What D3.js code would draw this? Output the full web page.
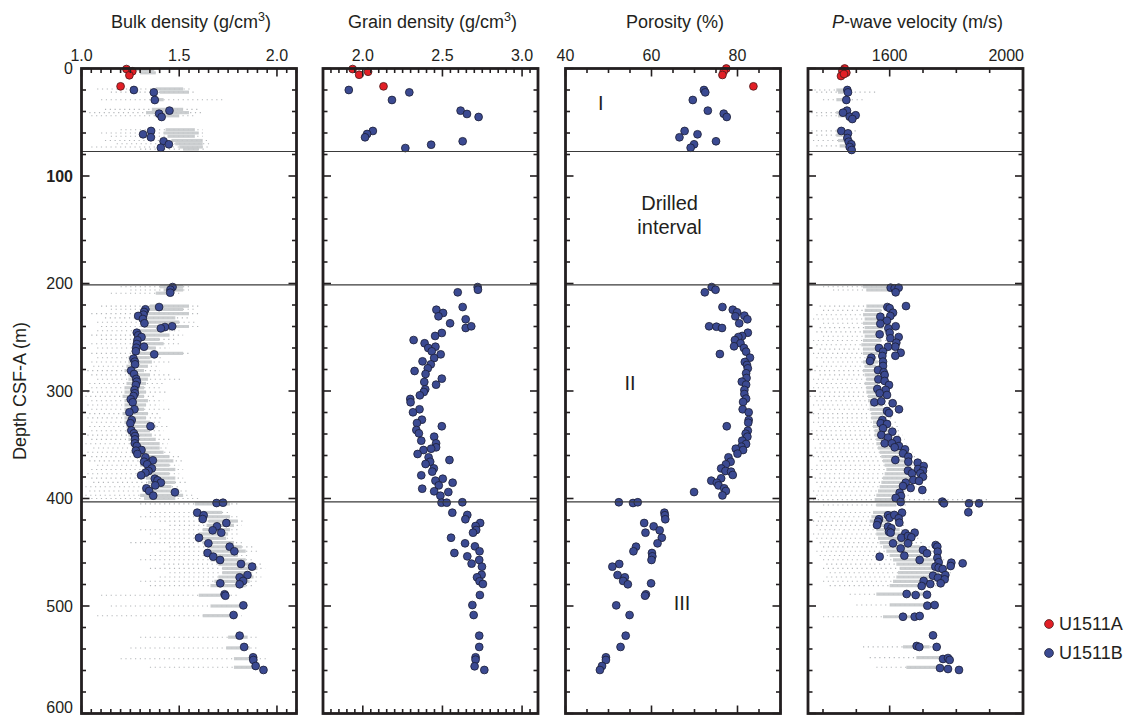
<!DOCTYPE html>
<html><head><meta charset="utf-8">
<script src="https://cdn.jsdelivr.net/npm/d3@7"></script>
<style>body{margin:0;background:#fff}svg{font-family:"Liberation Sans",Arial,Helvetica,sans-serif}</style>
</head><body><svg id="c" width="1129" height="717"></svg>
<script>
// ---------------- DATA ----------------
const unitBoundaries = [77.2, 201.3, 403.2];
const depthTicksMajor = [0,100,200,300,400,500,600];
const seriesNames = ["U1511A","U1511B"];

// [depth m, value]
const bulkA = [[0.5,1.23],[2.6,1.26],[6.3,1.245],[16.6,1.20]];
const bulkB = [[20,1.268],[22.2,1.37],[29.3,1.375],[39.2,1.45],[42,1.397],[45.1,1.41],[58.1,1.356],[61.2,1.315],[64,1.355],[67.7,1.42],[70.5,1.447],[73.7,1.406],
[203.3,1.466],[205.8,1.455],[208.5,1.454],[221.9,1.397],[224,1.327],[226.5,1.32],[229,1.317],[230.2,1.29],[233,1.314],[237,1.322],[239.8,1.464],[240.5,1.427],[241.7,1.406],[245.8,1.283],[248.2,1.29],[249.8,1.307],[252.8,1.286],[256.3,1.283],[258.8,1.32],[259.7,1.28],[263,1.278],[265.9,1.372],[269.9,1.266],[272.7,1.273],[275.2,1.274],[281,1.254],[284.2,1.269],[288.8,1.28],[291.3,1.283],[294.4,1.278],[299,1.271],[302.1,1.273],[304.7,1.266],[307.7,1.252],[310.5,1.262],[317,1.271],[319.8,1.245],[327,1.257],[330,1.25],[332.8,1.353],[336.6,1.255],[339.4,1.268],[341.9,1.274],[345,1.274],[348.7,1.273],[351.2,1.283],[354.9,1.307],[355.5,1.278],[358.6,1.286],[361.7,1.327],[364.5,1.365],[365.8,1.32],[368.2,1.336],[372,1.36],[374.4,1.343],[376,1.327],[378.4,1.305],[381.6,1.375],[383.1,1.389],[385.3,1.406],[387.8,1.377],[390.5,1.332],[393,1.346],[394.2,1.478],[397.4,1.367],
[404.2,1.691],[403.9,1.724],[413.2,1.592],[415.6,1.625],[419.1,1.62],[422.8,1.741],[425.9,1.693],[429.6,1.671],[431.8,1.715],[436.5,1.601],[441.7,1.649],[444.8,1.758],[449.1,1.782],[450.7,1.645],[454.1,1.674],[457.2,1.709],[460.9,1.816],[463.4,1.873],[471.2,1.849],[473.3,1.809],[476.7,1.827],[478.9,1.71],[479.8,1.809],[489.1,1.732],[490.4,1.736],[499.4,1.828],[508.4,1.778],[527.6,1.809],[538.1,1.832],[547.7,1.878],[550.2,1.879],[555.8,1.891],[559.5,1.931]];

const grainA = [[0.5,1.936],[5.8,1.977],[3,2.033],[16.6,2.13]];
const grainB = [[20,1.912],[22.2,2.292],[29.3,2.183],[39.2,2.614],[42.3,2.654],[45.1,2.727],[58.1,2.063],[60.9,2.027],[64,2.014],[67.7,2.627],[70.9,2.429],[74,2.267],
[203.3,2.721],[205.8,2.723],[208.2,2.596],[221.9,2.627],[224.4,2.462],[227.4,2.504],[230.5,2.475],[233.3,2.646],[237,2.548],[241.4,2.646],[239.8,2.681],[246,2.496],[248.8,2.454],[252.6,2.319],[255.6,2.388],[258.8,2.456],[260,2.411],[263.1,2.433],[265.9,2.489],[269.3,2.448],[272.4,2.375],[275.2,2.427],[278.9,2.408],[281.4,2.325],[284.2,2.394],[288.5,2.496],[291.6,2.386],[294.1,2.46],[298.4,2.392],[300.9,2.383],[304,2.358],[307.4,2.298],[310.5,2.3],[317,2.356],[319.8,2.315],[326.7,2.371],[329.8,2.34],[332.8,2.496],[336.3,2.336],[339.4,2.352],[342.5,2.448],[346.2,2.367],[348.7,2.46],[352.4,2.46],[353.7,2.429],[354.9,2.381],[358.6,2.344],[361.7,2.413],[364.2,2.544],[365.8,2.423],[367.9,2.394],[372,2.446],[375,2.436],[378.4,2.367],[381.6,2.502],[383.4,2.456],[385.3,2.564],[387.8,2.477],[390.9,2.373],[393.3,2.448],[394,2.537],[397.4,2.487],
[403.9,2.494],[403.9,2.527],[403.5,2.625],[413.2,2.562],[415.3,2.656],[419.3,2.644],[422.8,2.737],[425.6,2.708],[429.3,2.712],[431.8,2.692],[436.5,2.554],[441.7,2.642],[444.5,2.704],[449.1,2.733],[450.7,2.575],[453.8,2.656],[457.2,2.731],[460.6,2.683],[463.4,2.748],[470.9,2.746],[473.3,2.717],[477,2.733],[479.5,2.754],[489.8,2.735],[499.1,2.688],[508.4,2.696],[527.6,2.731],[538.1,2.731],[547.7,2.708],[549.9,2.708],[556.1,2.702],[559.5,2.763]];

const porA = [[0,77.4],[2.6,76.8],[6,76.5],[16.6,83.7]];
const porB = [[20,72.2],[22.2,72.5],[29.3,69.6],[39.2,73.1],[42,76.8],[45.1,77.5],[58.1,67.7],[64,66.5],[61.2,70.7],[67.7,75],[70.5,69.9],[73.7,69.1],
[203.3,74],[205.8,74.9],[208.2,72.4],[221.9,76.5],[224.4,78.9],[226.8,79.9],[230.5,79.5],[229.9,81.6],[233.3,82.3],[237,80.4],[239.8,73.4],[240.2,75.1],[241.4,76.4],[245.8,82.4],[248.8,81.1],[249.8,80.2],[252.6,79.4],[255.6,80.7],[258.4,79.2],[260,81.5],[265.6,75.9],[263.4,82],[269,82.9],[273,81.7],[275.8,82.2],[278.9,82.4],[283.5,82],[287.9,82.1],[291.3,81],[294.1,82],[299,81.6],[302.8,81.6],[307.1,82],[310.2,81.3],[317,81.2],[319.8,82.6],[327,82.6],[329.5,82.5],[332.8,77.5],[336.9,82.4],[339.7,81.9],[342.5,82.3],[346.2,81.1],[349.3,82],[351.8,80.9],[353.7,79.6],[354.9,81.3],[358.3,80],[361.7,77.9],[365.8,78.4],[368.2,77.3],[372,76.2],[374.4,77.2],[375,78.5],[378.1,78.9],[381.2,76.2],[383.4,73.9],[385.3,75.2],[387.8,75.6],[390.5,76.9],[393,77.3],[394,69.9],[397.1,76.5],
[403.5,52.4],[404.2,55.7],[403.5,56.8],[413.2,63],[415.6,63.1],[419.3,63.2],[422.8,58.3],[425.9,60.5],[429.6,61.9],[431.8,58.6],[436.5,62.4],[441.7,61.4],[444.8,56.4],[449.1,55.8],[450.7,60.1],[453.8,60.2],[457.2,60],[460.9,52.5],[463.4,50.9],[471.2,52.1],[473.3,53.8],[476.7,53.4],[479.8,54.5],[478.9,59.9],[489.1,58.7],[490.4,58.5],[499.4,51.8],[508.4,54.9],[527.6,54],[538.1,52.8],[547.7,49.4],[550.2,49.4],[555.8,48.5],[559.5,48]];

const pwA = [[0,1465],[2,1458],[3.9,1470],[7,1454],[5.1,1463]];
const pwB = [[20,1473],[22.2,1475],[29.3,1470],[39.2,1472],[41.1,1460],[44.8,1480],[43.5,1498],[47,1488],[58.1,1455],[60.3,1475],[64.7,1473],[68.1,1477],[70.5,1485],[73,1480],[75.8,1486],
[203.9,1603],[204.5,1615],[203.9,1627],[208.2,1618],[221,1649],[221.9,1593],[223,1600],[227.2,1610],[230.9,1572],[230.2,1602],[234.6,1592],[237.4,1572],[241.7,1596],[239.8,1618],[245.8,1600],[247.3,1570],[249.8,1627],[251,1602],[255.1,1620],[258.8,1617],[258.8,1595],[260,1568],[263.4,1580],[264.4,1633],[267.2,1617],[267.4,1578],[269,1545],[272.1,1541],[272.7,1580],[276.7,1580],[280.5,1565],[282.6,1582],[285.1,1585],[289.1,1566],[290.7,1585],[294.4,1598],[298.1,1563],[299,1588],[302.1,1570],[303.7,1592],[310.5,1554],[309.6,1575],[311.4,1609],[318.6,1592],[320.5,1598],[317,1628],[327,1578],[330,1573],[330.7,1592],[337.8,1608],[334.7,1580],[340.9,1575],[343.4,1595],[345.6,1622],[348.7,1585],[348.7,1607],[351.2,1628],[352.4,1615],[354.3,1646],[358,1640],[361.1,1656],[364.2,1617],[365.8,1656],[366.7,1684],[369.8,1702],[374.1,1655],[376.6,1667],[372.6,1685],[374.1,1700],[376.6,1692],[379.7,1700],[382.8,1671],[383.7,1688],[385.3,1648],[388.4,1640],[390.2,1663],[392.1,1698],[394.6,1630],[397.7,1634],[399.5,1618],
[403.3,1633],[402.9,1758],[404.5,1763],[404.5,1838],[404.5,1868],[412.8,1836],[413.2,1637],[419.3,1568],[421.6,1565],[424.7,1562],[415.6,1595],[417.9,1600],[415.3,1614],[418.4,1627],[422.5,1629],[426.2,1595],[427.7,1605],[430.9,1598],[431.8,1603],[432.4,1647],[431.8,1675],[436.5,1635],[434.9,1655],[436.1,1665],[441.7,1610],[441.7,1655],[443.3,1738],[444.8,1743],[446.4,1633],[447.9,1700],[449.5,1744],[451,1712],[453.2,1644],[454.1,1570],[455.3,1743],[457.2,1690],[459.3,1747],[459.7,1785],[460.3,1819],[463.4,1737],[464.4,1747],[465.6,1759],[462.8,1783],[471.2,1767],[471.8,1730],[473.7,1745],[475.2,1765],[476.7,1702],[479.5,1722],[481.4,1696],[478.9,1753],[488.8,1651],[489.8,1678],[489.5,1712],[499.7,1713],[499.1,1735],[510,1640],[510,1675],[509.3,1690],[527.3,1730],[537.2,1681],[538.1,1689],[538.1,1741],[549.3,1760],[548.4,1775],[550.2,1780],[557.7,1751],[558.6,1775],[559.5,1808]];

// whole-round logger streaks: [depth, coreLo, coreHi, scatterLo, scatterHi]
const bulkGray = [[1,1.27,1.37,1.22,1.40],[4,1.30,1.38,1.25,1.42],[19,1.38,1.52,1.08,1.56],[22,1.40,1.55,1.15,1.58],[29,1.36,1.42,1.10,1.73],[38,1.36,1.52,1.12,1.60],[41,1.33,1.55,1.04,1.62],[44,1.38,1.50,1.05,1.58],[57,1.43,1.58,1.20,1.62],[60,1.42,1.60,1.10,1.64],[63,1.44,1.58,1.15,1.62],[67,1.46,1.62,1.12,1.65],[70,1.48,1.62,1.18,1.66],[73,1.50,1.62,1.05,1.66],[75,1.52,1.60,1.30,1.63],
[203,1.40,1.52,1.20,1.56],[206,1.42,1.52,1.25,1.55],[209,1.38,1.45,1.15,1.50],[221,1.35,1.55,1.10,1.60],[224,1.33,1.52,1.15,1.58],[228,1.30,1.55,1.05,1.60],[232,1.30,1.48,1.12,1.55],[236,1.30,1.50,1.08,1.58],[240,1.32,1.55,1.10,1.60],[244,1.28,1.42,1.08,1.50],[248,1.28,1.45,1.05,1.52],[252,1.27,1.40,1.10,1.48],[256,1.27,1.42,1.05,1.50],[260,1.26,1.38,1.08,1.45],[265,1.27,1.52,1.05,1.56],[269,1.24,1.35,1.08,1.42],[273,1.24,1.36,1.05,1.45],[277,1.23,1.34,1.06,1.40],[281,1.22,1.32,1.03,1.40],[285,1.24,1.35,1.05,1.45],[289,1.24,1.34,1.08,1.52],[293,1.23,1.33,1.04,1.42],[297,1.22,1.32,1.05,1.40],[301,1.22,1.33,1.03,1.44],[305,1.21,1.32,1.02,1.38],[309,1.22,1.34,1.05,1.42],[313,1.22,1.33,1.03,1.40],[317,1.22,1.32,1.05,1.45],[321,1.21,1.34,1.04,1.40],[325,1.22,1.33,1.03,1.42],[329,1.22,1.35,1.05,1.40],[333,1.23,1.38,1.04,1.45],[337,1.23,1.35,1.05,1.42],[341,1.24,1.36,1.03,1.42],[345,1.24,1.38,1.05,1.46],[349,1.25,1.40,1.02,1.44],[353,1.26,1.40,1.06,1.45],[357,1.27,1.42,1.03,1.46],[361,1.28,1.45,1.05,1.50],[365,1.30,1.47,1.04,1.52],[369,1.30,1.45,1.08,1.50],[373,1.32,1.48,1.05,1.52],[377,1.30,1.45,1.03,1.50],[381,1.33,1.48,1.05,1.52],[385,1.34,1.48,1.06,1.55],[389,1.32,1.46,1.02,1.50],[393,1.33,1.50,1.04,1.55],[397,1.30,1.52,1.02,1.58],[400,1.32,1.48,1.05,1.60],
[405,1.58,1.76,1.30,1.80],[413,1.60,1.72,1.35,1.76],[417,1.62,1.76,1.30,1.80],[421,1.65,1.80,1.40,1.84],[425,1.64,1.78,1.45,1.82],[429,1.62,1.76,1.30,1.80],[433,1.60,1.75,1.35,1.80],[437,1.60,1.74,1.40,1.78],[441,1.62,1.78,1.25,1.82],[445,1.65,1.82,1.45,1.88],[449,1.66,1.84,1.40,1.90],[453,1.64,1.80,1.35,1.86],[457,1.66,1.84,1.30,1.88],[461,1.70,1.88,1.42,1.93],[465,1.72,1.90,1.35,1.94],[469,1.72,1.86,1.45,1.90],[473,1.70,1.88,1.40,1.92],[477,1.68,1.86,1.30,1.90],[481,1.66,1.84,1.35,1.88],[490,1.60,1.75,1.10,1.80],[500,1.66,1.82,1.15,1.85],[509,1.62,1.78,1.08,1.82],[529,1.75,1.85,1.30,1.90],[539,1.74,1.86,1.25,1.90],[549,1.78,1.90,1.20,1.96],[557,1.78,1.88,1.35,1.95]];

const pwGray = [[20,1440,1470,1360,1490],[22,1445,1465,1380,1560],[29,1440,1460,1400,1520],[41,1440,1470,1365,1490],[44,1445,1475,1380,1510],[58,1440,1460,1365,1500],[62,1440,1465,1380,1480],[67,1445,1470,1370,1490],[72,1450,1470,1380,1500],
[203,1520,1600,1400,1640],[206,1530,1610,1430,1620],[221,1530,1580,1390,1620],[225,1525,1575,1400,1600],[229,1520,1580,1380,1610],[233,1525,1575,1370,1600],[237,1520,1570,1400,1595],[241,1525,1580,1390,1605],[245,1520,1575,1380,1600],[249,1525,1570,1400,1600],[253,1520,1575,1370,1595],[257,1515,1565,1380,1600],[261,1520,1570,1390,1600],[265,1520,1565,1370,1590],[269,1530,1560,1380,1585],[273,1520,1565,1400,1590],[277,1525,1560,1380,1580],[281,1520,1565,1360,1590],[285,1525,1570,1390,1595],[289,1530,1565,1370,1590],[293,1525,1565,1380,1600],[297,1530,1570,1370,1590],[301,1530,1575,1390,1600],[305,1535,1580,1360,1605],[309,1535,1575,1380,1600],[313,1540,1580,1370,1610],[317,1540,1585,1390,1605],[321,1545,1585,1370,1610],[325,1545,1590,1385,1615],[329,1550,1595,1370,1620],[333,1550,1600,1390,1625],[337,1555,1605,1365,1630],[341,1555,1610,1380,1640],[345,1560,1615,1370,1645],[349,1560,1620,1390,1650],[353,1565,1630,1375,1655],[357,1570,1640,1380,1670],[361,1575,1650,1370,1680],[365,1580,1660,1390,1690],[369,1585,1665,1380,1700],[373,1590,1670,1365,1710],[377,1585,1665,1390,1705],[381,1580,1660,1375,1700],[385,1575,1650,1380,1690],[389,1570,1645,1390,1680],[393,1565,1640,1370,1670],[397,1560,1630,1380,1660],[401,1555,1620,1370,1900],
[406,1560,1620,1400,1650],[413,1550,1610,1380,1640],[417,1545,1605,1390,1630],[421,1540,1600,1370,1640],[425,1550,1610,1380,1650],[429,1560,1630,1390,1660],[433,1560,1650,1370,1680],[437,1565,1660,1380,1690],[441,1570,1670,1390,1700],[445,1580,1690,1400,1720],[449,1590,1700,1380,1730],[453,1600,1720,1390,1750],[457,1610,1730,1400,1770],[461,1620,1750,1410,1790],[465,1630,1760,1400,1800],[469,1625,1750,1420,1790],[473,1620,1740,1410,1780],[477,1610,1720,1400,1760],[481,1600,1700,1420,1740],[489,1560,1700,1480,1720],[499,1600,1720,1500,1740],[510,1580,1690,1400,1700],[538,1640,1720,1520,1760],[548,1680,1760,1540,1790],[557,1650,1760,1560,1790]];

const bulkTickLabels = [1.0,1.5,2.0];
const grainTickLabels = [2.0,2.5,3.0];
const porTickLabels = [40,60,80];
const pwTickLabels = [1600,2000];

// ---------------- LAYOUT ----------------
const svg = d3.select("#c");
const Y = d3.scaleLinear().domain([0,600]).range([68.5,713.5]);
const PW = 215;
const lefts = [81.5, 323, 565.5, 808];
const cA = "#e21f26", cB = "#3b4a92", cStroke = "#1c1e35";
const R = 3.9;

const panels = [
  {title:["Bulk density (g/cm","3",")"], dom:[1.0,2.1], minorStep:0.05, labels:bulkTickLabels, fmt:d3.format(".1f"), A:bulkA, B:bulkB, gray:bulkGray},
  {title:["Grain density (g/cm","3",")"], dom:[1.75,3.1], minorStep:0.05, labels:grainTickLabels, fmt:d3.format(".1f"), A:grainA, B:grainB},
  {title:["Porosity (%)"], dom:[40,90], minorStep:5, labels:porTickLabels, fmt:d3.format("d"), A:porA, B:porB},
  {title:["P","-wave velocity (m/s)"], italicFirst:true, dom:[1355,2000], minorStep:100, minorStart:1400, labels:pwTickLabels, fmt:d3.format("d"), A:pwA, B:pwB, gray:pwGray}
];

const defs = svg.append("defs");

panels.forEach((p,i)=>{
  const x0 = lefts[i];
  const X = d3.scaleLinear().domain(p.dom).range([x0, x0+PW]);
  const g = svg.append("g");
  defs.append("clipPath").attr("id","clip"+i).append("rect")
    .attr("x",x0).attr("y",Y(0)).attr("width",PW).attr("height",Y(600)-Y(0));
  const gc = g.append("g").attr("clip-path",`url(#clip${i})`);

  // gray logger data
  if (p.gray){
    gc.selectAll("line.sc").data(p.gray).join("line")
      .attr("x1",d=>X(d[3])).attr("x2",d=>X(d[4]))
      .attr("y1",d=>Y(d[0])).attr("y2",d=>Y(d[0]))
      .attr("stroke","#b3b6b9").attr("stroke-width",1.1).attr("stroke-dasharray","1.2,3.6");
    gc.selectAll("line.core").data(p.gray).join("line")
      .attr("x1",d=>X(d[1])).attr("x2",d=>X(d[2]))
      .attr("y1",d=>Y(d[0])).attr("y2",d=>Y(d[0]))
      .attr("stroke","#c6c9cb").attr("stroke-width",3.2).attr("opacity",0.9);
  }

  // unit boundaries
  g.selectAll("line.ub").data(unitBoundaries).join("line")
    .attr("x1",x0).attr("x2",x0+PW).attr("y1",d=>Y(d)).attr("y2",d=>Y(d))
    .attr("stroke","#3a3a3a").attr("stroke-width",1.2);

  // points
  gc.selectAll("circle.b").data(p.B).join("circle")
    .attr("cx",d=>X(d[1])).attr("cy",d=>Y(d[0])).attr("r",R)
    .attr("fill",cB).attr("stroke",cStroke).attr("stroke-width",0.8);
  g.append("g").selectAll("circle.a").data(p.A).join("circle")
    .attr("cx",d=>X(d[1])).attr("cy",d=>Y(d[0])).attr("r",R)
    .attr("fill",cA).attr("stroke","#4a1a1a").attr("stroke-width",0.8);

  // ticks (inward)
  const start = p.minorStart!==undefined ? p.minorStart : p.dom[0];
  const n = Math.round((p.dom[1]-start)/p.minorStep);
  const minorVals = d3.range(0,n+1).map(k=>+(start+k*p.minorStep).toFixed(4)).filter(v=>v<=p.dom[1]+1e-9);
  const isMajor = v => p.labels.some(l=>Math.abs(l-v)<1e-6);
  const tk = g.append("g").attr("stroke","#231f20").attr("stroke-width",1.6);
  minorVals.forEach(v=>{
    const L = isMajor(v)?8:4.5;
    tk.append("line").attr("x1",X(v)).attr("x2",X(v)).attr("y1",Y(0)).attr("y2",Y(0)+L);
    tk.append("line").attr("x1",X(v)).attr("x2",X(v)).attr("y1",Y(600)).attr("y2",Y(600)-L);
  });
  d3.range(0,601,20).forEach(d=>{
    const L = d%100===0?8:4.5;
    tk.append("line").attr("x1",x0).attr("x2",x0+L).attr("y1",Y(d)).attr("y2",Y(d));
    tk.append("line").attr("x1",x0+PW).attr("x2",x0+PW-L).attr("y1",Y(d)).attr("y2",Y(d));
  });

  // frame
  g.append("rect").attr("x",x0).attr("y",Y(0)).attr("width",PW).attr("height",Y(600)-Y(0))
    .attr("fill","none").attr("stroke","#231f20").attr("stroke-width",2.8);

  // tick labels
  g.selectAll("text.tl").data(p.labels).join("text")
    .attr("x",d=> (i===3 && d===2000) ? X(d)+1 : X(d))
    .attr("y",60.5).attr("text-anchor",d=> (i===3 && d===2000) ? "end":"middle")
    .attr("font-size",16).attr("fill","#231f20").text(d=>p.fmt(d));

  // title
  const t = g.append("text").attr("x",x0+PW/2+2).attr("y",28).attr("text-anchor","middle")
    .attr("font-size",18).attr("fill","#231f20");
  if (p.italicFirst){
    t.append("tspan").attr("font-style","italic").text(p.title[0]);
    t.append("tspan").text(p.title[1]);
  } else if (p.title.length===3){
    t.append("tspan").text(p.title[0]);
    t.append("tspan").attr("dy",-7).attr("font-size",12.5).text(p.title[1]);
    t.append("tspan").attr("dy",7).text(p.title[2]);
  } else t.text(p.title[0]);
});

// depth labels
svg.selectAll("text.dl").data(depthTicksMajor).join("text")
  .attr("x",73).attr("y",d=>Math.min(Y(d)+5.8, 712.5)).attr("text-anchor","end")
  .attr("font-size",16).attr("fill","#231f20").attr("font-weight",d=>d===100?"bold":"normal")
  .text(d=>d);
svg.append("text").attr("transform",`translate(26,${(Y(0)+Y(600))/2}) rotate(-90)`)
  .attr("text-anchor","middle").attr("font-size",18).attr("fill","#231f20").text("Depth CSF-A (m)");

// unit labels (porosity panel)
const Xp = d3.scaleLinear().domain([40,90]).range([lefts[2], lefts[2]+PW]);
const unitLabels = [{t:"I",v:48.2,d:32},{t:"Drilled",v:64.2,d:124.5},{t:"interval",v:64.2,d:147.2},{t:"II",v:55,d:292},{t:"III",v:67.1,d:497}];
svg.selectAll("text.ul").data(unitLabels).join("text")
  .attr("x",d=>Xp(d.v)).attr("y",d=>Y(d.d)).attr("dy","0.36em").attr("text-anchor","middle")
  .attr("font-size",20).attr("fill","#231f20").text(d=>d.t);

// legend
const lg = svg.append("g");
[[cA,"#4a1a1a",624,seriesNames[0]],[cB,cStroke,653,seriesNames[1]]].forEach(r=>{
  lg.append("circle").attr("cx",1049).attr("cy",r[2]).attr("r",4.4).attr("fill",r[0]).attr("stroke",r[1]).attr("stroke-width",0.8);
  lg.append("text").attr("x",1059).attr("y",r[2]).attr("dy","0.36em").attr("font-size",18).attr("fill","#231f20").text(r[3]);
});
</script></body></html>
